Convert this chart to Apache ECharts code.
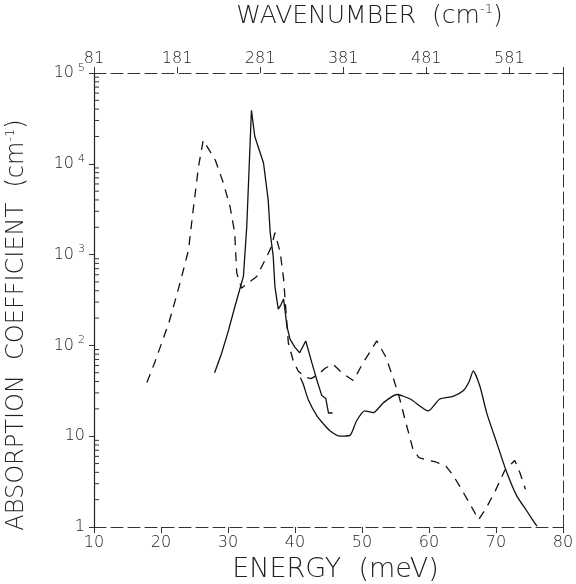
<!DOCTYPE html>
<html>
<head>
<meta charset="utf-8">
<script src="https://cdn.jsdelivr.net/npm/echarts@6/dist/echarts.min.js"></script>
<style>html,body{margin:0;padding:0;background:#fff}#c{width:576px;height:584px}</style>
</head>
<body>
<div id="c"></div>
<script>
// ---- data (energy in meV, absorption coefficient in cm^-1) ----
const dashedEnergy = [17.9,19.1,20.3,21.2,22.1,23.1,24.1,24.8,25.6,26.3,28.1,29.3,30.3,31.0,31.3,32.0,34.3,35.8,36.5,37.0,37.8,38.3,39.0,39.8,40.5,41.5,42.4,43.5,44.5,45.7,47.0,48.7,50.2,51.2,52.2,53.5,54.7,55.5,56.4,57.6,58.5,59.6,61.0,62.5,63.5,64.6,66.1,67.4,68.5,69.9,71.3,72.8,73.6,74.4];
const dashedValue  = [39,66,117,180,309,575,1120,3090,9330,18200,11000,6170,3390,1740,630,427,575,955,1230,1740,1050,537,107,65,52,45,43,48,56,62,50,41,65,85,112,76,43,28,15.5,7.2,5.8,5.5,5.2,4.7,3.8,2.8,1.8,1.2,1.6,2.5,4.2,5.4,3.9,2.6];

const solidAEnergy = [28.0,29.0,30.0,31.0,32.3,32.8,33.2,33.5,34.0,35.3,36.0,36.3,36.75,37.0,37.5,37.9,38.3,38.8,39.25,40.0,40.7,41.6,42.5,43.2,44.0,44.6,45.0,45.6];
const solidAValue  = [50,80,140,263,575,2040,11000,38900,20000,10200,3980,1740,955,447,251,280,324,162,117,95,83,112,65,43,28,26,18,18];

const solidBEnergy = [40.8,41.2,42.0,43.3,44.3,45.2,46.7,48.2,49.2,50.4,51.7,53.2,55.2,57.2,59.9,61.6,63.6,65.1,66.0,66.6,67.6,68.6,70.1,71.6,73.1,74.6,76.1];
const solidBValue  = [44,38,25,16.6,13.5,11.5,10,10.2,14.8,19,18.2,23.4,28.8,25.7,19,25.7,27.5,31.6,40,52.5,35.5,18.2,8.5,4.0,2.2,1.5,1.02];

const energyTicks = [10,20,30,40,50,60,70,80];
const wavenumberTickLabels = [81,181,281,381,481,581];
const yMajorTicks = [1,10,100,1000,10000,100000];
const yMinorTicks = [2,3,4,5,6,7,8,9,20,30,40,50,60,70,80,90,200,300,400,500,600,700,800,900,2000,3000,4000,5000,6000,7000,8000,9000,20000,30000,40000,50000,60000,70000,80000,90000];

function pairs(xs, ys){ return xs.map((x,i)=>[x, ys[i]]); }

const FONT = 'DejaVu Sans';
const INK = '#222';
const chart = echarts.init(document.getElementById('c'));
const supRich = { sup: { fontSize: 11, verticalAlign: 'top', padding: [0,0,10,4], fontFamily: FONT, fontWeight: 200, color: INK } };
const titleSup = { sup: { fontSize: 13, verticalAlign: 'top', padding: [0,0,13,0], fontFamily: FONT, fontWeight: 200, color: INK } };

chart.setOption({
  animation: false,
  backgroundColor: '#fff',
  grid: { left: 94, right: 13, top: 73, bottom: 57, containLabel: false, outerBoundsMode: 'none' },
  xAxis: [
    {
      type: 'value', position: 'bottom', min: energyTicks[0], max: energyTicks[energyTicks.length-1], interval: 10,
      name: 'ENERGY  (meV)', nameLocation: 'middle', nameGap: 29,
      nameTextStyle: { fontFamily: FONT, fontWeight: 200, fontSize: 27, color: INK, padding: [0,0,0,14] },
      axisLine: { lineStyle: { color: '#333', width: 1, type: [12,5] } },
      axisTick: { inside: false, length: 6, lineStyle: { color: '#333' } },
      axisLabel: { fontFamily: FONT, fontWeight: 200, fontSize: 16, color: INK, margin: 8 },
      splitLine: { show: false }
    },
    {
      type: 'value', position: 'top', min: 80.655, max: 645.24, interval: 100,
      name: 'WAVENUMBER  (cm{sup|-1})', nameLocation: 'middle', nameGap: 44,
      nameTextStyle: { fontFamily: FONT, fontWeight: 200, fontSize: 25, color: INK, padding: [0,0,0,82], rich: titleSup },
      axisLine: { lineStyle: { color: '#333', width: 1, type: [12,5] } },
      axisTick: { inside: false, length: 6, lineStyle: { color: '#333' } },
      axisLabel: { fontFamily: FONT, fontWeight: 200, fontSize: 16, color: INK, margin: 6,
        formatter: v => { const r = Math.round(v); return wavenumberTickLabels.includes(r) ? String(r) : ''; } },
      splitLine: { show: false }
    }
  ],
  yAxis: [
    {
      type: 'log', logBase: 10, min: yMajorTicks[0], max: yMajorTicks[yMajorTicks.length-1],
      name: 'ABSORPTION  COEFFICIENT  (cm{sup|-1})', nameLocation: 'middle', nameGap: 64, nameRotate: 90,
      nameTextStyle: { fontFamily: FONT, fontWeight: 200, fontSize: 24, color: INK, padding: [0,50,0,0], rich: titleSup },
      axisLine: { lineStyle: { color: '#222', width: 1.2 } },
      axisTick: { inside: false, length: 5, lineStyle: { color: '#333' } },
      axisLabel: { fontFamily: FONT, fontWeight: 200, fontSize: 16, color: INK, margin: 9, rich: supRich,
        formatter: v => { const k = Math.round(Math.log10(v)); if (k === 0) return '1'; if (k === 1) return '10'; return '10{sup|' + k + '}'; } },
      splitLine: { show: false }
    },
    {
      type: 'log', logBase: 10, min: 1, max: 100000, position: 'right',
      axisLine: { show: true, lineStyle: { color: '#333', width: 1, type: [12,5] } },
      axisTick: { show: false }, axisLabel: { show: false }, splitLine: { show: false }
    }
  ],
  series: [
    {
      type: 'custom', xAxisIndex: 0, yAxisIndex: 0, silent: true, clip: false,
      data: yMinorTicks.map(v => [energyTicks[0], v]),
      renderItem: (params, api) => {
        const p = api.coord([api.value(0), api.value(1)]);
        return { type: 'line', shape: { x1: p[0], y1: p[1], x2: p[0] + 5, y2: p[1] }, style: { stroke: '#333', lineWidth: 1 } };
      }
    },
    {
      type: 'line', xAxisIndex: 0, yAxisIndex: 0, data: pairs(dashedEnergy, dashedValue),
      showSymbol: false, symbol: 'none',
      lineStyle: { color: '#111', width: 1.3, type: [9,7] }
    },
    {
      type: 'line', xAxisIndex: 0, yAxisIndex: 0, data: pairs(solidAEnergy, solidAValue),
      showSymbol: false, symbol: 'none',
      lineStyle: { color: '#111', width: 1.3 }
    },
    {
      type: 'line', xAxisIndex: 0, yAxisIndex: 0, data: pairs(solidBEnergy, solidBValue),
      showSymbol: false, symbol: 'none', smooth: 0.2,
      lineStyle: { color: '#111', width: 1.3 }
    }
  ]
});
</script>
</body>
</html>
